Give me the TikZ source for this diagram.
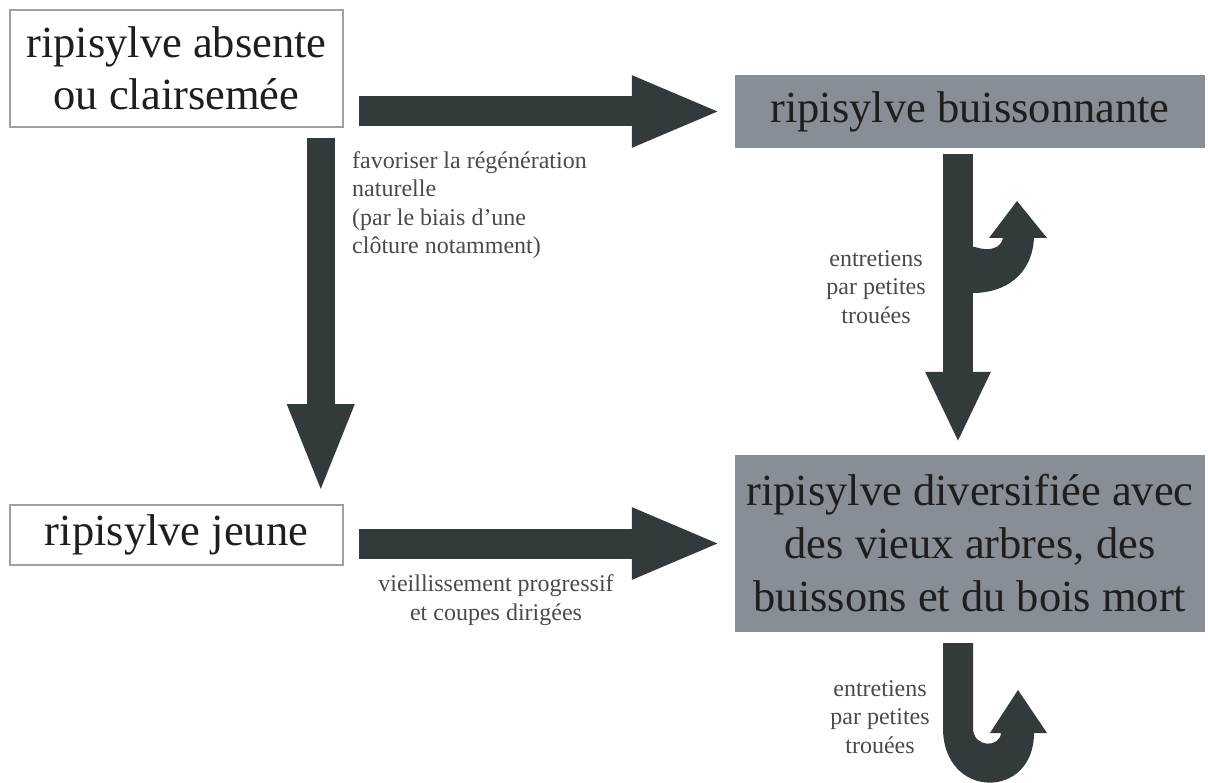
\documentclass[tikz,border=0pt]{standalone}
\usepackage{fontspec}
\setmainfont{Liberation Serif}
\usetikzlibrary{arrows.meta,calc}
\definecolor{boxgray}{HTML}{878E96}
\definecolor{arrowc}{HTML}{323A3C}
\definecolor{labc}{HTML}{4A4A4A}
\definecolor{edgec}{HTML}{A0A0A0}
\definecolor{txtc}{HTML}{1E1E1E}
\begin{document}
\begin{tikzpicture}[x=1pt,y=-1pt,
  whitebox/.style={draw=edgec,line width=1.5pt,fill=white,inner sep=0pt,align=center,text=txtc,font=\fontsize{44.5}{52}\selectfont},
  graybox/.style={fill=boxgray,inner sep=0pt,align=center,text=txtc,font=\fontsize{44.5}{53}\selectfont},
  lab/.style={text=labc,inner sep=0pt,font=\fontsize{24}{28.5}\selectfont},
  fatarrow/.style={draw=arrowc,line width=30pt,line cap=butt}
]
\useasboundingbox (0,0) rectangle (1208,783);
\node[whitebox,minimum width=333pt,minimum height=117pt] (A) at (176.5,68.5) {ripisylve absente\\ou clairsemée};
\node[graybox,minimum width=470pt,minimum height=73pt] (B) at (970,111.5) {ripisylve buissonnante};
\node[whitebox,minimum width=333pt,minimum height=60pt] (C) at (176.5,535) {ripisylve jeune};
\node[graybox,minimum width=470pt,minimum height=177pt] (D) at (970,543.5) {ripisylve diversifiée avec\\des vieux arbres, des\\buissons et du bois mort};

% straight arrows
\draw[fatarrow,-{Triangle[width=65pt,length=90pt]}] ($(A.east |- B.west)+(15,0)$) -- ($(B.west)+(-13,0)$);
\draw[fatarrow,-{Triangle[width=65pt,length=90pt]}] ($(C.east |- D.west)+(15,0)$) -- ($(D.west)+(-13,0)$);
\draw[fatarrow,line width=28pt,-{Triangle[width=60pt,length=90pt]}] ($(A.south east)+(-23,10)$) -- ($(C.north east)+(-23,-10)$);
\draw[fatarrow,-{Triangle[width=60pt,length=71pt]}] ($(B.south)+(-12,6)$) -- ($(D.north)+(-12,-12)$);

% hook on the B->D arrow
\fill[arrowc] (960,245) -- (975,247) .. controls (990,252) and (1001,248) .. (1003,238)
  -- (989,238) -- (1017,201) -- (1047,238) -- (1034,238)
  .. controls (1032,275) and (1005,293) .. (973,293) -- (960,293) -- cycle;

% U-turn below D
\fill[arrowc] ($(D.south)+(-27,11)$) -- ($(D.south)+(3,11)$) -- (973,728)
  .. controls (973,748) and (1000,748) .. (1001,733)
  -- (990,733) -- (1018,690) -- (1047,733) -- (1034,733)
  .. controls (1034,800) and (943,800) .. (943,728) -- cycle;

% labels
\node[lab,anchor=north west,align=left] (L1) at (352,151) {favoriser la régénération\\naturelle\\(par le biais d’une\\clôture notamment)};
\node[lab,align=center] (L2) at (876,287) {entretiens\\par petites\\trouées};
\node[lab,align=center] (L3) at (880,717) {entretiens\\par petites\\trouées};
\node[lab,align=center] (L4) at (496,600) {vieillissement progressif\\et coupes dirigées};
\end{tikzpicture}
\end{document}
